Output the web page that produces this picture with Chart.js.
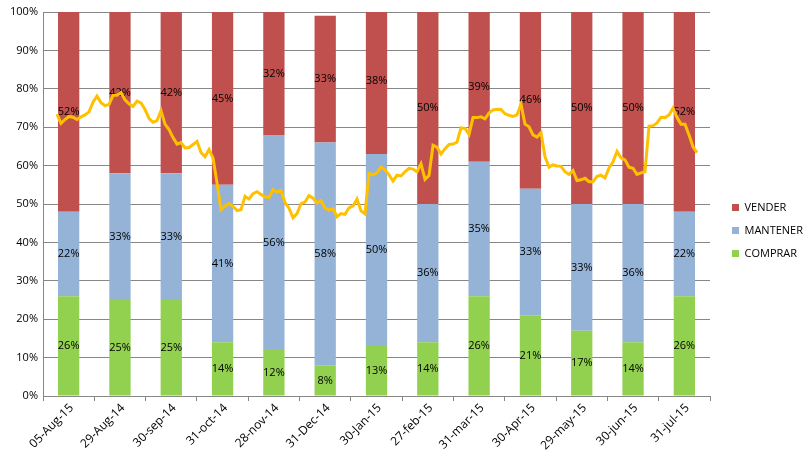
<!DOCTYPE html>
<html>
<head>
<meta charset="utf-8">
<script src="https://cdn.jsdelivr.net/npm/chart.js@4.4.0/dist/chart.umd.min.js"></script>
<style>
  html, body { margin: 0; padding: 0; background: #fff; }
  #wrap { width: 811px; height: 457px; }
</style>
</head>
<body>
<div id="wrap"><canvas id="chart"></canvas></div>
<script>
// Categories and stacked shares (%)
const categories = ['05-Aug-15', '29-Aug-14', '30-sep-14', '31-oct-14', '28-nov-14', '31-Dec-14',
  '30-Jan-15', '27-feb-15', '31-mar-15', '30-Apr-15', '29-may-15', '30-jun-15', '31-jul-15'];
const comprar  = [26, 25, 25, 14, 12, 8, 13, 14, 26, 21, 17, 14, 26];
const mantener = [22, 33, 33, 41, 56, 58, 50, 36, 35, 33, 33, 36, 22];
const vender   = [52, 42, 42, 45, 32, 33, 38, 50, 39, 46, 50, 50, 52];

// Daily trend line (read on the % axis)
const trend = [
  73.4, 71.0, 72.0, 72.8, 72.6, 72.0, 72.7, 73.2, 74.0, 76.5,
  78.1, 76.4, 75.6, 75.9, 78.3, 78.3, 79.0, 77.1, 76.1, 75.4,
  76.8, 76.3, 74.6, 72.3, 71.3, 71.7, 74.3, 70.8, 69.4, 67.3,
  65.6, 66.0, 64.6, 64.7, 65.5, 66.3, 63.4, 62.3, 64.2, 62.0,
  55.5, 48.5, 49.5, 50.1, 49.4, 48.3, 48.5, 52.0, 51.3, 52.7,
  53.2, 52.5, 51.9, 51.7, 53.7, 53.1, 53.5, 50.4, 48.9, 46.4,
  47.5, 50.1, 50.5, 52.2, 51.5, 50.3, 50.9, 48.9, 48.4, 48.8,
  46.7, 47.5, 47.3, 49.0, 49.5, 51.3, 48.2, 47.4, 58.0, 57.6,
  58.1, 59.6, 58.9, 57.6, 56.0, 57.5, 57.3, 58.4, 59.3, 59.1,
  58.4, 60.5, 56.4, 57.4, 65.3, 64.8, 63.0, 64.4, 65.5, 65.6,
  66.1, 69.8, 69.7, 68.1, 72.5, 72.5, 72.7, 72.2, 73.7, 74.5,
  74.7, 74.6, 73.5, 73.1, 72.8, 73.2, 76.0, 70.8, 70.1, 68.0,
  67.4, 68.6, 62.3, 59.6, 60.2, 59.9, 59.8, 58.4, 57.7, 58.7,
  56.1, 56.3, 56.7, 55.8, 55.8, 57.2, 57.5, 56.8, 59.4, 61.0,
  63.7, 62.0, 61.5, 59.6, 59.3, 57.7, 58.1, 58.4, 70.3, 70.4,
  71.1, 72.6, 72.5, 73.2, 75.0, 72.5, 70.8, 70.8, 68.0, 64.9,
  63.4
];

const FONT = '"Open Sans", "Liberation Sans", sans-serif';
const gridColor = '#878787';

// percentage text in the middle of each bar segment
const segmentLabels = {
  id: 'segmentLabels',
  afterDatasetDraw(chart, args) {
    const ds = chart.data.datasets[args.index];
    if (ds.type === 'line') return;
    const ctx = chart.ctx;
    ctx.save();
    ctx.font = '11px ' + FONT;
    ctx.fillStyle = '#000';
    ctx.textAlign = 'center';
    ctx.textBaseline = 'middle';
    args.meta.data.forEach((bar, i) => {
      ctx.fillText(ds.data[i] + '%', bar.x, (bar.y + bar.base) / 2);
    });
    ctx.restore();
  }
};

// nudge the legend block a little
const legendShift = {
  id: 'legendShift',
  afterLayout(chart) {
    const lg = chart.legend;
    lg.top -= 4; lg.bottom -= 4;
    lg.left += 10; lg.right += 10;
  }
};

new Chart(document.getElementById('chart'), {
  data: {
    labels: categories,
    datasets: [
      { type: 'bar', label: 'COMPRAR', data: comprar, backgroundColor: '#92D050', order: 1 },
      { type: 'bar', label: 'MANTENER', data: mantener, backgroundColor: '#95B3D7', order: 1 },
      { type: 'bar', label: 'VENDER', data: vender, backgroundColor: '#C0504D', order: 1 },
      {
        type: 'line', label: 'trend', xAxisID: 'xLine', order: 0,
        data: trend.map((v, i) => ({ x: i, y: v })),
        borderColor: '#FFC000', borderWidth: 3, pointRadius: 0, tension: 0, fill: false
      }
    ]
  },
  options: {
    responsive: true,
    maintainAspectRatio: false,
    animation: false,
    layout: { padding: { top: 12, right: 8, left: 0, bottom: 0 } },
    datasets: { bar: { grouped: false, barPercentage: 0.415, categoryPercentage: 1 } },
    scales: {
      x: {
        type: 'category',
        stacked: true,
        offset: true,
        grid: { drawOnChartArea: false, offset: true, color: gridColor, tickLength: 5 },
        border: { color: gridColor },
        ticks: { color: '#000', font: { family: FONT, size: 12 }, minRotation: 45, maxRotation: 45,
          autoSkip: false, padding: 0, labelOffset: 3 },
        afterFit(s) { s.height = 61; }
      },
      xLine: {
        type: 'linear', display: false, offset: false, min: -3.5, max: 163.25
      },
      y: {
        stacked: true, min: 0, max: 100,
        grid: { color: gridColor, drawTicks: false },
        border: { color: gridColor },
        ticks: { stepSize: 10, color: '#000', font: { family: FONT, size: 11 }, padding: 5,
          callback: v => v + '%' },
        afterFit(s) { s.width = 43; }
      }
    },
    plugins: {
      legend: {
        position: 'right',
        reverse: true,
        labels: {
          filter: item => item.text !== 'trend',
          boxWidth: 7, boxHeight: 7, padding: 12,
          color: '#000', font: { family: FONT, size: 11 }
        }
      },
      tooltip: { enabled: false }
    }
  },
  plugins: [segmentLabels, legendShift]
});
</script>
</body>
</html>
